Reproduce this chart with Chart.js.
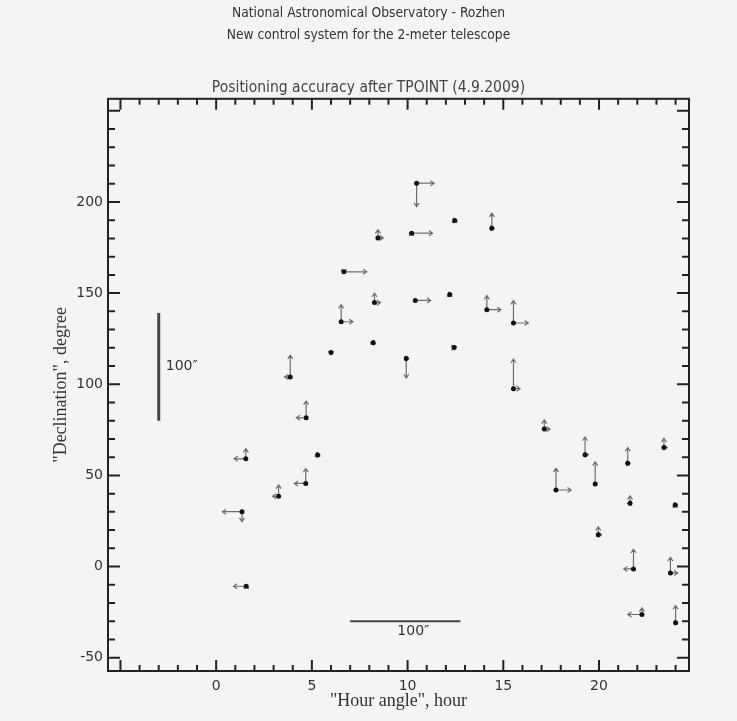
<!DOCTYPE html>
<html>
<head>
<meta charset="utf-8">
<script src="https://cdn.jsdelivr.net/npm/chart.js@4.4.1/dist/chart.umd.min.js"></script>
<style>
  html, body { margin: 0; padding: 0; background: #f4f4f4; }
</style>
</head>
<body>
<canvas id="chart" width="737" height="721"></canvas>
<script>
// hour angle (h) and declination (deg) of each pointing
const HOUR_ANGLE = [1.57, 1.35, 1.55, 3.26, 4.68, 5.3, 4.7, 3.87, 6.0, 10.47,
  8.45, 10.21, 6.67, 8.27, 10.4, 6.53, 8.2, 9.93, 12.46, 14.4,
  12.2, 14.14, 15.53, 12.43, 15.53, 17.14, 19.27, 21.5, 23.39, 17.75,
  19.8, 21.62, 23.98, 19.96, 21.8, 23.73, 22.24, 24.0];
const DECLINATION = [-10.8, 30.1, 59.1, 38.5, 45.6, 61.2, 81.6, 104, 117.4, 210.3,
  180.3, 182.9, 161.7, 144.8, 146, 134.3, 122.8, 114.1, 189.9, 185.6,
  149.3, 140.9, 133.6, 120.1, 97.6, 75.4, 61.3, 56.6, 65.3, 42,
  45.3, 34.7, 33.8, 17.5, -1.3, -3.5, -26.3, -30.8];
// residuals after TPOINT, arcsec
const ERR_HA = [-11.6, -17.8, -10.7, -5.5, -10.4, 2, -8.9, -5.2, 0, 15.9,
  4.9, 19, 20.8, 5.5, 14, 10.7, -2, 2, 2, 2,
  2, 12.8, 13.5, 1, 6.1, 5.2, 3, 2, 3, 13.8,
  0, -2, 2, 3, -8.9, 6.7, -12.8, 2];
const ERR_DEC = [1, -9.2, 9.5, 10.7, 13.8, 2, 15.6, 20.2, -2, -21.7,
  7.6, 1, -1, 8.9, 0, 15.9, 2, -18, 1, 14,
  1, 13.1, 20.8, -2, 27.5, 8.6, 16.5, 14.7, 8.6, 20.2,
  20.5, 7, 1, 7.3, 18.3, 14.4, 6.1, 15.9];

const X_TICKS = [0, 5, 10, 15, 20];
const Y_TICKS = [-50, 0, 50, 100, 150, 200];

const HEADER = ["National Astronomical Observatory - Rozhen",
  "New control system for the 2-meter telescope"];
const TITLE = "Positioning accuracy after TPOINT (4.9.2009)";

// 100" reference bars (data units)
const BAR_ARCSEC = 100;
const BAR_H = { x0: 7, x1: 12.76, y: -30 };
const BAR_V = { x: -3, y0: 80, y1: 139.1 };
const HOURS_PER_ARCSEC = (BAR_H.x1 - BAR_H.x0) / BAR_ARCSEC;
const DEG_PER_ARCSEC = (BAR_V.y1 - BAR_V.y0) / BAR_ARCSEC;

const NARROW = "'Liberation Sans Narrow', 'DejaVu Sans Condensed', 'Liberation Sans'";

function arrow(ctx, x0, y0, x1, y1) {
  const len = Math.hypot(x1 - x0, y1 - y0);
  if (len < 0.5) return;
  const a = Math.atan2(y1 - y0, x1 - x0);
  const h = 4.5;
  ctx.moveTo(x0, y0);
  ctx.lineTo(x1, y1);
  ctx.moveTo(x1 - h * Math.cos(a - 0.6), y1 - h * Math.sin(a - 0.6));
  ctx.lineTo(x1, y1);
  ctx.lineTo(x1 - h * Math.cos(a + 0.6), y1 - h * Math.sin(a + 0.6));
}

const arrows = {
  id: "arrows",
  beforeDatasetsDraw(chart) {
    const { ctx, scales: { x, y } } = chart;
    ctx.save();
    ctx.strokeStyle = "#6e6e6e";
    ctx.lineWidth = 1.2;
    ctx.beginPath();
    HOUR_ANGLE.forEach((ha, i) => {
      const dec = DECLINATION[i];
      const px = x.getPixelForValue(ha);
      const py = y.getPixelForValue(dec);
      arrow(ctx, px, py, x.getPixelForValue(ha + ERR_HA[i] * HOURS_PER_ARCSEC), py);
      arrow(ctx, px, py, px, y.getPixelForValue(dec + ERR_DEC[i] * DEG_PER_ARCSEC));
    });
    ctx.stroke();

    // scale bars
    ctx.strokeStyle = "#444";
    ctx.lineWidth = 3;
    ctx.beginPath();
    ctx.moveTo(x.getPixelForValue(BAR_V.x), y.getPixelForValue(BAR_V.y0));
    ctx.lineTo(x.getPixelForValue(BAR_V.x), y.getPixelForValue(BAR_V.y1));
    ctx.stroke();
    ctx.lineWidth = 2;
    ctx.beginPath();
    ctx.moveTo(x.getPixelForValue(BAR_H.x0), y.getPixelForValue(BAR_H.y));
    ctx.lineTo(x.getPixelForValue(BAR_H.x1), y.getPixelForValue(BAR_H.y));
    ctx.stroke();

    ctx.fillStyle = "#333";
    ctx.font = "14px 'DejaVu Sans'";
    ctx.textBaseline = "middle";
    ctx.textAlign = "left";
    ctx.fillText(BAR_ARCSEC + "\u2033", x.getPixelForValue(BAR_V.x) + 7,
      (y.getPixelForValue(BAR_V.y0) + y.getPixelForValue(BAR_V.y1)) / 2);
    ctx.textAlign = "center";
    ctx.fillText(BAR_ARCSEC + "\u2033",
      (x.getPixelForValue(BAR_H.x0) + x.getPixelForValue(BAR_H.x1)) / 2 + 8,
      y.getPixelForValue(BAR_H.y) + 10);
    ctx.restore();
  }
};

// box round the plot with inward ticks on all four sides
const frame = {
  id: "frame",
  afterDatasetsDraw(chart) {
    const { ctx, chartArea: a, scales: { x, y } } = chart;
    ctx.save();
    ctx.strokeStyle = "#222";
    ctx.lineWidth = 2;
    ctx.strokeRect(a.left, a.top, a.right - a.left, a.bottom - a.top);
    ctx.beginPath();
    for (let v = Math.ceil(x.min); v <= x.max; v++) {
      const p = x.getPixelForValue(v);
      const len = v % 5 === 0 ? 11 : 6;
      ctx.moveTo(p, a.bottom); ctx.lineTo(p, a.bottom - len);
      ctx.moveTo(p, a.top); ctx.lineTo(p, a.top + len);
    }
    for (let v = Math.ceil(y.min / 10) * 10; v <= y.max; v += 10) {
      const p = y.getPixelForValue(v);
      const len = v % 50 === 0 ? 12 : 7;
      ctx.moveTo(a.left, p); ctx.lineTo(a.left + len, p);
      ctx.moveTo(a.right, p); ctx.lineTo(a.right - len, p);
    }
    ctx.stroke();
    ctx.restore();
  }
};

const ctx = document.getElementById("chart").getContext("2d");

new Chart(ctx, {
  type: "scatter",
  data: {
    datasets: [{
      data: HOUR_ANGLE.map((ha, i) => ({ x: ha, y: DECLINATION[i] })),
      backgroundColor: "#111",
      borderWidth: 0,
      pointRadius: 2.5,
    }],
  },
  options: {
    responsive: false,
    animation: false,
    layout: { padding: 0 },
    plugins: {
      legend: { display: false },
      tooltip: { enabled: false },
      title: {
        display: true,
        text: HEADER,
        color: "#333",
        font: { family: NARROW, size: 13.7, weight: "normal", lineHeight: 22 / 13.7 },
        padding: { top: 2, bottom: 0 },
      },
      subtitle: {
        display: true,
        text: TITLE,
        color: "#444",
        font: { family: NARROW, size: 15.5, weight: "normal", lineHeight: 21.6 / 15.5 },
        padding: { top: 31.2, bottom: 0 },
      },
    },
    scales: {
      x: {
        type: "linear",
        min: -5.65,
        max: 24.7,
        grid: { display: false, drawTicks: false },
        border: { display: false },
        afterBuildTicks: (s) => { s.ticks = X_TICKS.map((v) => ({ value: v })); },
        afterFit: (s) => { s.height = 50; },
        ticks: { padding: 6.6, color: "#333", font: { family: "'DejaVu Sans'", size: 14 } },
        title: {
          display: true,
          text: '"Hour angle", hour',
          color: "#333",
          font: { family: "'Liberation Serif'", size: 18 },
          padding: { bottom: 9 },
        },
      },
      y: {
        type: "linear",
        min: -57.3,
        max: 256.6,
        grid: { display: false, drawTicks: false },
        border: { display: false },
        afterBuildTicks: (s) => { s.ticks = Y_TICKS.map((v) => ({ value: v })); },
        afterFit: (s) => { s.width = 108; },
        ticks: { padding: 5, color: "#333", font: { family: "'DejaVu Sans'", size: 14 } },
        title: {
          display: true,
          text: '"Declination", degree',
          color: "#333",
          font: { family: "'Liberation Serif'", size: 18 },
          padding: { top: 50 },
        },
      },
      // empty right-hand axis, only keeps the margin so titles stay centred on the page
      yRight: {
        type: "linear",
        position: "right",
        min: -57.3,
        max: 256.6,
        grid: { display: false, drawTicks: false },
        border: { display: false },
        ticks: { display: false },
        afterFit: (s) => { s.width = 48; },
      },
    },
  },
  plugins: [arrows, frame],
});
</script>
</body>
</html>
